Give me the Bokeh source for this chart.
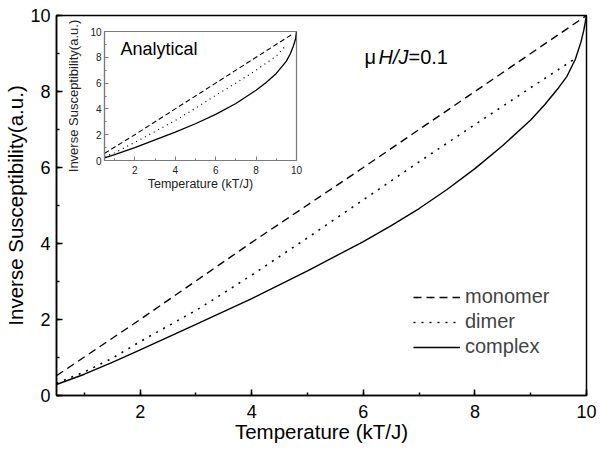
from bokeh.plotting import figure
from bokeh.models import Range1d, SingleIntervalTicker, Legend, LegendItem, Label
from bokeh.embed import file_html
from bokeh.resources import INLINE

# ---------------- data ----------------
# main panel
mono_x = [0.5, 2, 4, 6, 8, 10]
mono_y = [0.52, 2.0, 4.03, 6.0, 8.0, 10.0]

dimer_x = [0.5, 1, 1.5, 2, 2.5, 3, 3.5, 4, 5, 6, 7, 8, 9, 9.8]
dimer_y = [0.32, 0.62, 0.98, 1.42, 1.83, 2.24, 2.7, 3.17, 4.15, 5.15, 6.15, 7.13, 8.1, 8.87]

complex_x = [0.5, 1, 1.5, 2, 3, 4, 5, 6, 6.5, 7, 7.5, 8, 8.5, 9, 9.25, 9.5, 9.65, 9.8, 9.9, 9.95, 10]
complex_y = [0.29, 0.56, 0.87, 1.2, 1.87, 2.55, 3.28, 4.05, 4.47, 4.92, 5.42, 5.97, 6.58, 7.25, 7.65, 8.1, 8.4, 8.85, 9.3, 9.6, 10.0]

# inset ("Analytical")
a_mono_x = [0.5, 2, 4, 6, 8, 9.8]
a_mono_y = [0.55, 2.0, 4.0, 6.0, 8.0, 9.8]

a_dimer_x = [0.5, 1, 2, 3, 4, 5, 6, 7, 8, 9, 9.5]
a_dimer_y = [0.3, 0.6, 1.4, 2.25, 3.1, 4.05, 5.05, 6.0, 7.0, 8.1, 8.95]

a_complex_x = [0.5, 1, 2, 3, 4, 5, 6, 7, 8, 8.5, 9, 9.5, 9.7, 9.85, 9.95, 10]
a_complex_y = [0.2, 0.45, 1.0, 1.6, 2.2, 2.85, 3.58, 4.42, 5.45, 6.05, 6.75, 7.7, 8.3, 8.9, 9.4, 10.0]

legend_labels = ["monomer", "dimer", "complex"]
x_label = "Temperature (kT/J)"
y_label = "Inverse Susceptibility(a.u.)"
field_parts = ["\u03bc", "H/J", "=0.1"]
inset_title = "Analytical"

FONT = "Liberation Sans"

# ---------------- main figure ----------------
p = figure(width=600, height=449, x_range=Range1d(0.5, 10), y_range=Range1d(0, 10),
           output_backend="svg", toolbar_location=None,
           min_border_left=56, min_border_right=14, min_border_top=15, min_border_bottom=54)
p.xgrid.visible = False
p.ygrid.visible = False
p.outline_line_color = "black"
p.outline_line_width = 1.5
p.background_fill_color = "white"
p.border_fill_color = "white"

for ax in (p.xaxis[0], p.yaxis[0]):
    ax.ticker = SingleIntervalTicker(interval=2, num_minor_ticks=2)
    ax.major_tick_in = 6
    ax.major_tick_out = 0
    ax.minor_tick_in = 3
    ax.minor_tick_out = 0
    ax.axis_line_width = 1.5
    ax.major_tick_line_width = 1.5
    ax.minor_tick_line_width = 1.5
    ax.axis_line_color = "black"
    ax.major_tick_line_color = "black"
    ax.minor_tick_line_color = "black"
    ax.major_label_text_font = FONT
    ax.major_label_text_font_size = "18px"
    ax.major_label_text_color = "black"
    ax.axis_label_text_font = FONT
    ax.axis_label_text_font_size = "20.5px"
    ax.axis_label_text_font_style = "normal"
    ax.axis_label_text_color = "black"

p.xaxis.major_label_standoff = 9
p.xaxis.axis_label_standoff = -1
p.yaxis.major_label_standoff = 6
p.yaxis.axis_label_standoff = 0
p.xaxis.axis_label = x_label
p.yaxis.axis_label = y_label

r_mono = p.line(mono_x, mono_y, line_color="black", line_width=1.4, line_dash="8 5")
r_dimer = p.line(dimer_x, dimer_y, line_color="black", line_width=1.6, line_dash="2 6")
r_complex = p.line(complex_x, complex_y, line_color="black", line_width=1.4)

legend = Legend(items=[LegendItem(label=legend_labels[0], renderers=[r_mono]),
                       LegendItem(label=legend_labels[1], renderers=[r_dimer]),
                       LegendItem(label=legend_labels[2], renderers=[r_complex])],
                location=(357, 37), padding=0, margin=0, spacing=2,
                glyph_width=47, glyph_height=20, label_standoff=5,
                label_text_font=FONT, label_text_font_size="20px",
                border_line_alpha=0, background_fill_alpha=0)
p.add_layout(legend)

# "μ H/J=0.1" with the H/J part in italics
for part, dx, style in zip(field_parts, [0, 14, 44], ["normal", "italic", "normal"]):
    p.add_layout(Label(x=6.02, y=8.92, x_offset=dx, text=part, text_font=FONT,
                       text_font_size="20px", text_font_style=style,
                       text_baseline="middle", text_align="left", text_color="black"))

# ---------------- inset figure (same canvas size, overlaid on the main one) ----------------
q = figure(width=600, height=449, x_range=Range1d(0.5, 10), y_range=Range1d(0, 10),
           output_backend="svg", toolbar_location=None,
           min_border_left=104, min_border_right=304, min_border_top=31, min_border_bottom=289)
q.xgrid.visible = False
q.ygrid.visible = False
q.outline_line_color = "#7a7a7a"
q.outline_line_width = 1.2
q.background_fill_color = "white"
q.border_fill_alpha = 0

for ax in (q.xaxis[0], q.yaxis[0]):
    ax.ticker = SingleIntervalTicker(interval=2, num_minor_ticks=2)
    ax.major_tick_in = 4
    ax.major_tick_out = 0
    ax.minor_tick_in = 2
    ax.minor_tick_out = 0
    ax.axis_line_color = "#7a7a7a"
    ax.major_tick_line_color = "#7a7a7a"
    ax.minor_tick_line_color = "#7a7a7a"
    ax.axis_line_width = 1.2
    ax.major_label_text_font = FONT
    ax.major_label_text_font_size = "10px"
    ax.major_label_text_color = "#222222"
    ax.axis_label_text_font = FONT
    ax.axis_label_text_font_style = "normal"
    ax.axis_label_text_color = "#222222"

q.xaxis.axis_label_text_font_size = "12.5px"
q.yaxis.axis_label_text_font_size = "13px"
q.xaxis.major_label_standoff = 5
q.xaxis.axis_label_standoff = 0
q.yaxis.major_label_standoff = 3
q.yaxis.axis_label_standoff = 6
q.xaxis.axis_label = x_label
q.yaxis.axis_label = y_label

q.line(a_mono_x, a_mono_y, line_color="black", line_width=1.1, line_dash="5 3")
q.line(a_dimer_x, a_dimer_y, line_color="black", line_width=1.2, line_dash="1 4")
q.line(a_complex_x, a_complex_y, line_color="black", line_width=1.3)

q.add_layout(Label(x=1.29, y=8.68, text=inset_title, text_font=FONT, text_font_size="18px",
                   text_baseline="middle", text_align="left", text_color="black"))

q.styles = {"position": "absolute", "left": "0px", "top": "0px"}

open("out.html", "w").write(file_html([p, q], INLINE))
